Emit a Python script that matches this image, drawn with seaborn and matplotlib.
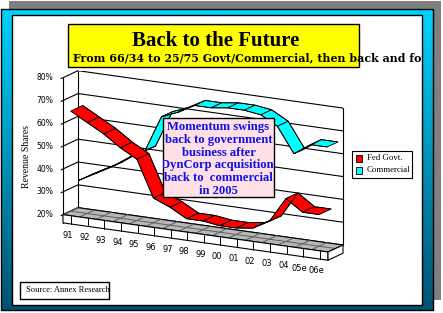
import numpy as np
import pandas as pd
import matplotlib
matplotlib.use("Agg")
import matplotlib.pyplot as plt
import seaborn as sns
from matplotlib.patches import Rectangle, Polygon

# ---------------- data ----------------
years = ["91", "92", "93", "94", "95", "96", "97", "98", "99", "00", "01", "02", "03", "04", "05e", "06e"]
fed_govt = [66, 62, 58, 53, 49, 33, 30, 26, 26, 25, 25, 26, 30, 41, 36, 36]
commercial = [34, 38, 42, 47, 51, 67, 70, 74, 74, 75, 75, 74, 70, 59, 64, 64]
series_names = ["Fed Govt.", "Commercial"]
series_colors = ["#ff0000", "#00ffff"]
y_ticks = [20, 30, 40, 50, 60, 70, 80]
y_tick_labels = ["20%", "30%", "40%", "50%", "60%", "70%", "80%"]
title = "Back to the Future"
subtitle = "From 66/34 to 25/75 Govt/Commercial, then back and forth"
note_lines = ["Momentum swings", "back to government", "business after",
              "DynCorp acquisition,", "back to  commercial", "in 2005"]
source_text = "Source: Annex Research"
y_label = "Revenue Shares"

sns.set_theme(style="white")
plt.rcParams["font.family"] = ["DejaVu Sans"]
plt.rcParams["text.color"] = "black"

W, H = 443, 313
fig = plt.figure(figsize=(W / 100, H / 100), dpi=100)
fig.patch.set_facecolor("white")

# background (pixel coordinate) axes
bg = fig.add_axes([0, 0, 1, 1], zorder=0)
bg.set_axis_off()
bg.add_patch(Rectangle((9, 1), 432, 299, facecolor="#808080", edgecolor="none", zorder=1))
top_c = np.array([0, 210, 255]) / 255
bot_c = np.array([0, 82, 112]) / 255
t = np.linspace(0, 1, 200)[:, None, None]
grad = top_c[None, None, :] * (1 - t) + bot_c[None, None, :] * t
bg.imshow(grad, extent=(1, 433, 310, 9), aspect="auto", zorder=2, interpolation="bilinear")
bg.add_patch(Rectangle((1, 9), 432, 301, facecolor="none", edgecolor="black", lw=1.0, zorder=3))
inner = Rectangle((12, 15), 410, 290, facecolor="white", edgecolor="black", lw=1.0, zorder=4)
bg.add_patch(inner)
bg.set_xlim(0, W)
bg.set_ylim(H, 0)

# title box
bg.add_patch(Rectangle((68, 24), 291, 43, facecolor="#ffff00", edgecolor="black", lw=1.0, zorder=5))
bg.text(216, 41, title, ha="center", va="center", fontsize=15, fontweight="bold",
        family="Liberation Serif", color="black", zorder=6)
st = bg.text(73, 58, subtitle, ha="left", va="center", fontsize=7.95, fontweight="bold",
             family="DejaVu Serif", color="black", zorder=6)
st.set_clip_path(inner)
st.set_clip_on(True)

# y label
bg.text(27, 156, y_label, ha="center", va="center", rotation=90, fontsize=7,
        family="Liberation Serif", zorder=6)

# source box
src_box = Rectangle((20, 282), 89, 17, facecolor="white", edgecolor="black", lw=1.0, zorder=5)
bg.add_patch(src_box)
sb = bg.text(26.5, 290.5, source_text, ha="left", va="center", fontsize=6.1,
             family="Liberation Serif", zorder=6)
sb.set_clip_path(src_box)
sb.set_clip_on(True)

# legend
bg.add_patch(Rectangle((352, 151), 60, 27, facecolor="white", edgecolor="black", lw=0.8, zorder=5))
for k, (nm, col) in enumerate(zip(series_names, series_colors)):
    yy = 155 + 12 * k
    bg.add_patch(Rectangle((356.5, yy), 6, 6.5, facecolor=col, edgecolor="black", lw=0.6, zorder=6))
    bg.text(367, yy + 3.3, nm, ha="left", va="center", fontsize=6.3,
            family="Liberation Serif", zorder=6)

# ---------------- chart axes (3D-like projection) ----------------
x0, x1, ytop, ybot = 78, 343, 70.7, 253.3
ax = fig.add_axes([x0 / W, 1 - ybot / H, (x1 - x0) / W, (ybot - ytop) / H], zorder=2)
ax.patch.set_alpha(0)

n = len(years)
K = 0.141 * (265 / 16) / (182.6 / 80)   # skew, % per category
DX = -15 / (265 / 16)                     # depth vector, category units
DY = -7 / (182.6 / 80)                    # depth vector, % units


def P(i, v, d):
    i = np.asarray(i, float)
    v = np.asarray(v, float)
    return i + DX * d, v - K * (i + 0.5) + DY * d


# back wall gridlines (seaborn)
rows = []
for v in y_ticks:
    for xi in (-0.5, 15.5):
        px, py = P(xi, v, 0)
        rows.append({"level": v, "px": float(px), "py": float(py)})
grid_df = pd.DataFrame(rows)
sns.lineplot(data=grid_df, x="px", y="py", units="level", estimator=None, sort=False,
             color="black", lw=0.8, ax=ax, legend=False, zorder=2)
for v in y_ticks:
    a = P(-0.5, v, 1.13)
    b = P(-0.5, v, 0)
    ax.plot([a[0], b[0]], [a[1], b[1]], color="black", lw=0.8, zorder=2, clip_on=False)
for xi in (-0.5, 15.5):
    a = P(xi, y_ticks[0], 0)
    b = P(xi, y_ticks[-1], 0)
    ax.plot([a[0], b[0]], [a[1], b[1]], color="black", lw=0.8, zorder=2, clip_on=False)
floor_v = y_ticks[0]
slab = 3.6
a = P(-0.5, y_ticks[-1], 1)
b = P(-0.5, floor_v - slab, 1)
ax.plot([a[0], b[0]], [a[1], b[1]], color="black", lw=0.8, zorder=2, clip_on=False)

# floor
corners = [P(-0.5, floor_v, 0), P(15.5, floor_v, 0), P(15.5, floor_v, 1), P(-0.5, floor_v, 1)]
ax.add_patch(Polygon(corners, closed=True, facecolor="#b8b8b8", edgecolor="black", lw=0.8,
                     zorder=3, clip_on=False))
for j in np.arange(-0.5, 16.0, 1.0):
    a = P(j, floor_v, 0)
    b = P(j, floor_v, 1)
    ax.plot([a[0], b[0]], [a[1], b[1]], color="#5e5e5e", lw=0.7, zorder=3, clip_on=False)
a = P(-0.5, floor_v, 0.5)
b = P(15.5, floor_v, 0.5)
ax.plot([a[0], b[0]], [a[1], b[1]], color="#5e5e5e", lw=0.7, zorder=3, clip_on=False)
face = [P(-0.5, floor_v, 1), P(15.5, floor_v, 1), P(15.5, floor_v - slab, 1), P(-0.5, floor_v - slab, 1)]
ax.add_patch(Polygon(face, closed=True, facecolor="white", edgecolor="black", lw=0.8,
                     zorder=3, clip_on=False))
side = [P(15.5, floor_v, 0), P(15.5, floor_v, 1), P(15.5, floor_v - slab, 1), P(15.5, floor_v - slab, 0)]
ax.add_patch(Polygon(side, closed=True, facecolor="white", edgecolor="black", lw=0.8,
                     zorder=3, clip_on=False))
for i in range(n):
    a = P(i, floor_v, 1)
    b = P(i, floor_v - slab, 1)
    ax.plot([a[0], b[0]], [a[1], b[1]], color="black", lw=0.7, zorder=3, clip_on=False)

# x labels
for i, lab in enumerate(years):
    px, py = P(i - 0.2, 11.2, 1)
    ax.text(px, py, lab, ha="center", va="center", fontsize=6, zorder=4, clip_on=False)
# y labels
for v, lab in zip(y_ticks, y_tick_labels):
    px, py = P(-0.5, v, 1)
    ax.text(px - 0.6, py, lab, ha="right", va="center", fontsize=5.5, zorder=4, clip_on=False)


def ribbon(vals, dc, half, color, z):
    df_rows = []
    for i in range(n - 1):
        quad = [P(i, vals[i], dc + half), P(i + 1, vals[i + 1], dc + half),
                P(i + 1, vals[i + 1], dc - half), P(i, vals[i], dc - half)]
        ax.add_patch(Polygon(quad, closed=True, facecolor=color, edgecolor="black", lw=0.6,
                             zorder=z, clip_on=False))
    for edge, d in (("front", dc + half), ("back", dc - half)):
        px, py = P(np.arange(n), vals, d)
        for a_, b_ in zip(px, py):
            df_rows.append({"edge": edge, "px": a_, "py": b_})
    edf = pd.DataFrame(df_rows)
    sns.lineplot(data=edf, x="px", y="py", units="edge", estimator=None, sort=False,
                 color="black", lw=0.6, ax=ax, legend=False, zorder=z + 0.1)


ribbon(commercial, 0.15, 0.36, series_colors[1], 5)
ribbon(fed_govt, 0.64, 0.4, series_colors[0], 6)
ax.set_xlim(-0.5, 15.5)
ax.set_ylim(0, 80)
ax.set_axis_off()

# ---------------- foreground annotation ----------------
fg = fig.add_axes([0, 0, 1, 1], zorder=10)
fg.set_axis_off()
fg.patch.set_alpha(0)
fg.set_xlim(0, W)
fg.set_ylim(H, 0)
note_box = Rectangle((163, 118), 111, 79, facecolor="#ffe0e6", edgecolor="black", lw=1.0, zorder=1)
fg.add_patch(note_box)
for k, line in enumerate(note_lines):
    tx = fg.text(218.5, 126.7 + 12.9 * k, line, ha="center", va="center", fontsize=9.1,
                 fontweight="bold", family="Liberation Serif", color="#1010e8", zorder=2)
    tx.set_clip_path(note_box)
    tx.set_clip_on(True)

fig.savefig("out.png", dpi=100)
